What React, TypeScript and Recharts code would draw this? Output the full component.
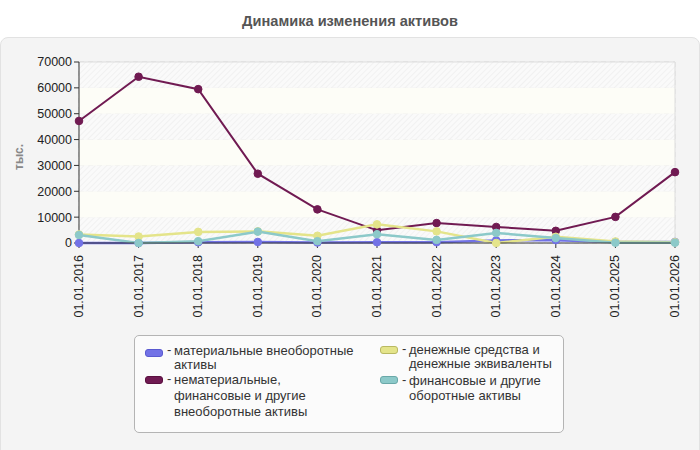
import React from 'react';
import { LineChart, Line, XAxis, YAxis, CartesianGrid, ReferenceArea, ReferenceLine } from 'recharts';

const categories = ['01.01.2016', '01.01.2017', '01.01.2018', '01.01.2019', '01.01.2020', '01.01.2021', '01.01.2022', '01.01.2023', '01.01.2024', '01.01.2025', '01.01.2026'];
const tangible = [0, 0, 300, 400, 200, 300, 300, 1000, 1100, 400, 400];
const intangible = [47200, 64300, 59500, 26800, 13000, 4900, 7700, 6200, 4700, 10100, 27400];
const cash = [3300, 2500, 4300, 4500, 2800, 7200, 4500, 0, 2400, 600, 300];
const financial = [3100, 0, 700, 4400, 700, 3400, 1200, 3900, 1900, 100, 100];
const yTicks = [0, 10000, 20000, 30000, 40000, 50000, 60000, 70000];

const title = 'Динамика изменения активов';
const yLabel = 'тыс.';
const seriesNames = [
  'материальные внеоборотные активы',
  'нематериальные, финансовые и другие внеоборотные активы',
  'денежные средства и денежные эквиваленты',
  'финансовые и другие оборотные активы',
];

const data = categories.map((c, i) => ({
  date: c,
  tangible: tangible[i],
  intangible: intangible[i],
  cash: cash[i],
  financial: financial[i],
}));

const FONT = '"Liberation Sans", Arial, sans-serif';
const COLORS = {
  tangible: '#7272e6',
  intangible: '#701a52',
  cash: '#e4e48a',
  financial: '#8cc9c9',
};
const BORDERS = {
  tangible: '#5a5ad0',
  intangible: '#5a1040',
  cash: '#b9b962',
  financial: '#6aa8a8',
};

const XTick = (props: any) => {
  const { x, y, payload } = props;
  const ty = y + 5;
  return (
    <text
      x={x}
      y={ty}
      transform={`rotate(-90, ${x}, ${ty})`}
      textAnchor="end"
      dominantBaseline="central"
      fontSize={12.5}
      fontFamily={FONT}
      fill="#222"
    >
      {payload.value}
    </text>
  );
};

const legendLayout = [
  { key: 'tangible', left: 145, swTop: 349, lines: ['материальные внеоборотные', 'активы'], tops: [343, 357] },
  { key: 'intangible', left: 145, swTop: 376, lines: ['нематериальные,', 'финансовые и другие', 'внеоборотные активы'], tops: [372, 388, 404] },
  { key: 'cash', left: 380, swTop: 346, lines: ['денежные средства и', 'денежные эквиваленты'], tops: [342, 356] },
  { key: 'financial', left: 380, swTop: 376, lines: ['финансовые и другие', 'оборотные активы'], tops: [373, 388] },
];

export default function App() {
  const hatchBands = yTicks.slice(0, -1).map((v, i) => ({ y1: v, y2: yTicks[i + 1], hatched: i % 2 === 0 }));
  return (
    <div style={{ position: 'fixed', left: 0, top: 0, width: 700, height: 450, background: '#fff', fontFamily: FONT, overflow: 'hidden' }}>
      <div style={{ position: 'absolute', left: 0, top: 11, width: 700, textAlign: 'center', fontSize: 14.6, fontWeight: 'bold', color: '#555', lineHeight: '20px' }}>
        {title}
      </div>
      <div style={{ position: 'absolute', left: 0, top: 37, width: 698, height: 420, background: '#f4f4f4', border: '1px solid #e2e2e2', borderRadius: 8 }} />
      <div style={{ position: 'absolute', left: 0, top: 0 }}>
        <LineChart width={700} height={450} data={data} margin={{ top: 62, right: 25, left: 29, bottom: 127 }}>
          <defs>
            <pattern id="hatch" patternUnits="userSpaceOnUse" width="4" height="4" patternTransform="rotate(45)">
              <rect width="4" height="4" fill="#fafafa" />
              <line x1="0" y1="0" x2="0" y2="4" stroke="#ececec" strokeWidth="1.2" />
            </pattern>
          </defs>
          {hatchBands.map((b) => (
            <ReferenceArea
              key={b.y1}
              y1={b.y1}
              y2={b.y2}
              fill={b.hatched ? 'url(#hatch)' : '#fdfdf7'}
              fillOpacity={1}
              stroke="none"
              ifOverflow="extendDomain"
            />
          ))}
          <CartesianGrid stroke="#dcdcdc" strokeDasharray="5 4" />
          <ReferenceLine y={70000} stroke="#dddddd" />
          <ReferenceLine x={categories[categories.length - 1]} stroke="#dddddd" />
          <XAxis
            dataKey="date"
            interval={0}
            height={80}
            tick={<XTick />}
            tickSize={5}
            stroke="#333"
            axisLine={{ stroke: '#333' }}
            tickLine={{ stroke: '#333' }}
          />
          <YAxis
            width={50}
            domain={[0, 70000]}
            ticks={yTicks}
            interval={0}
            tickSize={5}
            axisLine={{ stroke: '#333' }}
            tickLine={{ stroke: '#333' }}
            tick={{ fill: '#222', fontSize: 12.5, fontFamily: FONT }}
          />
          <Line dataKey="tangible" stroke={COLORS.tangible} strokeWidth={2.5} dot={{ r: 3.8, fill: COLORS.tangible, stroke: COLORS.tangible, strokeWidth: 1 }} isAnimationActive={false} />
          <Line dataKey="intangible" stroke={COLORS.intangible} strokeWidth={2} dot={{ r: 3.8, fill: COLORS.intangible, stroke: COLORS.intangible, strokeWidth: 1 }} isAnimationActive={false} />
          <Line dataKey="cash" stroke={COLORS.cash} strokeWidth={2.5} dot={{ r: 3.8, fill: COLORS.cash, stroke: COLORS.cash, strokeWidth: 1 }} isAnimationActive={false} />
          <Line dataKey="financial" stroke={COLORS.financial} strokeWidth={2.5} dot={{ r: 3.8, fill: COLORS.financial, stroke: COLORS.financial, strokeWidth: 1 }} isAnimationActive={false} />
        </LineChart>
      </div>
      <div style={{ position: 'absolute', left: 12, top: 152, transform: 'rotate(-90deg)', transformOrigin: 'left top', fontSize: 12, fontWeight: 'bold', color: '#888', whiteSpace: 'nowrap' }}>
        <div style={{ position: 'relative', left: -18, top: 0 }}>{yLabel}</div>
      </div>
      <div style={{ position: 'absolute', left: 134, top: 335, width: 428, height: 96, background: '#fbfbfb', border: '1px solid #b4b4b4', borderRadius: 5 }} />
      {legendLayout.map((it, idx) => (
        <React.Fragment key={it.key}>
          <div style={{ position: 'absolute', left: it.left, top: it.swTop, width: 16, height: 6, background: (COLORS as any)[it.key], border: `1px solid ${(BORDERS as any)[it.key]}`, borderRadius: 3 }} />
          <div style={{ position: 'absolute', left: it.left + 22, top: it.tops[0], fontSize: 13, color: '#333', whiteSpace: 'nowrap', lineHeight: '13px' }}>-</div>
          {it.lines.map((ln, j) => (
            <div key={j} title={j === 0 ? seriesNames[idx] : undefined} style={{ position: 'absolute', left: it.left + 29, top: it.tops[j] + 1, fontSize: 13, color: '#333', whiteSpace: 'nowrap', lineHeight: '13px' }}>
              {ln}
            </div>
          ))}
        </React.Fragment>
      ))}
    </div>
  );
}
